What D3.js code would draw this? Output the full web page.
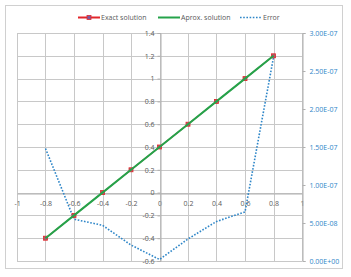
<!DOCTYPE html>
<html>
<head>
<meta charset="utf-8">
<script src="https://cdn.jsdelivr.net/npm/d3@7"></script>
<style>
  body { margin: 0; background: #fff; }
  text { font-family: "Open Sans", "DejaVu Sans", sans-serif; }
</style>
</head>
<body>
<div id="chart"></div>
<script>
// data
var xs = [-0.8, -0.6, -0.4, -0.2, 0, 0.2, 0.4, 0.6, 0.8];
var exact = [-0.4, -0.2, 0, 0.2, 0.4, 0.6, 0.8, 1.0, 1.2];
var aprox = [-0.4, -0.2, 0, 0.2, 0.4, 0.6, 0.8, 1.0, 1.2];
var error = [1.48e-7, 0.55e-7, 0.47e-7, 0.21e-7, 0.02e-7, 0.29e-7, 0.52e-7, 0.645e-7, 2.68e-7];
var xTicks = [-1, -0.8, -0.6, -0.4, -0.2, 0, 0.2, 0.4, 0.6, 0.8, 1];
var yTicks = [-0.6, -0.4, -0.2, 0, 0.2, 0.4, 0.6, 0.8, 1, 1.2, 1.4];
var y2Ticks = [0, 0.5e-7, 1e-7, 1.5e-7, 2e-7, 2.5e-7, 3e-7];
var y2Labels = ["0.00E+00", "5.00E-08", "1.00E-07", "1.50E-07", "2.00E-07", "2.50E-07", "3.00E-07"];

var W = 351, H = 277;
var pLeft = 17, pRight = 302, pTop = 33, pBottom = 261;
var red = "#e3262b", green = "#25a34a", blue = "#2e86c8";

var svg = d3.select('#chart').append('svg')
  .attr('width', W)
  .attr('height', H);

// chart border
svg.append('rect')
  .attr('x', 5.5).attr('y', 5.5)
  .attr('width', 337).attr('height', 263)
  .attr('fill', '#fff').attr('stroke', '#d0d0d0');

var x = d3.scaleLinear().domain([-1, 1]).range([pLeft, pRight]);
var y = d3.scaleLinear().domain([-0.6, 1.4]).range([pBottom, pTop]);
var y2 = d3.scaleLinear().domain([0, 3e-7]).range([pBottom, pTop]);

// gridlines
svg.append('g').selectAll('line').data(xTicks)
  .enter().append('line')
  .attr('x1', function (d) { return Math.round(x(d)) + 0.5; })
  .attr('x2', function (d) { return Math.round(x(d)) + 0.5; })
  .attr('y1', pTop).attr('y2', pBottom)
  .attr('stroke', '#c8c8c8');
svg.append('g').selectAll('line').data(yTicks)
  .enter().append('line')
  .attr('y1', function (d) { return Math.round(y(d)) + 0.5; })
  .attr('y2', function (d) { return Math.round(y(d)) + 0.5; })
  .attr('x1', pLeft).attr('x2', pRight)
  .attr('stroke', '#c8c8c8');

// axes through zero
var xAxis = d3.axisBottom(x).tickValues(xTicks).tickSize(0).tickPadding(8)
  .tickFormat(function (d) { return String(+d.toFixed(1)); });
var gx = svg.append('g').attr('transform', 'translate(0,' + (Math.round(y(0)) + 0.5) + ')').call(xAxis);
gx.select('.domain').attr('stroke', '#b0b0b0');

var yAxis = d3.axisLeft(y).tickValues(yTicks).tickSize(3).tickPadding(3)
  .tickFormat(function (d) { return String(+d.toFixed(1)); });
var gy = svg.append('g').attr('transform', 'translate(' + (Math.round(x(0)) + 0.5) + ',0)').call(yAxis);
gy.select('.domain').attr('stroke', '#b0b0b0');
gy.selectAll('.tick line').attr('stroke', '#b0b0b0');

var y2Axis = d3.axisRight(y2).tickValues(y2Ticks).tickSize(3).tickPadding(4)
  .tickFormat(function (d, i) { return y2Labels[i]; });
var gy2 = svg.append('g').attr('transform', 'translate(' + (pRight + 0.5) + ',0)').call(y2Axis);
gy2.select('.domain').attr('stroke', '#b0b0b0');
gy2.selectAll('.tick line').attr('stroke', '#b0b0b0');

svg.selectAll('.tick text').attr('font-size', 7).attr('fill', '#595959')
  .style('font-family', '"Open Sans", "DejaVu Sans", sans-serif');
gy2.selectAll('.tick text').attr('fill', blue);

// series
var pts = xs.map(function (d, i) { return { x: d, e: exact[i], a: aprox[i], r: error[i] }; });

svg.append('path').datum(pts)
  .attr('fill', 'none').attr('stroke', blue).attr('stroke-width', 1.6)
  .attr('stroke-dasharray', '1.6,1.6')
  .attr('d', d3.line().x(function (d) { return x(d.x); }).y(function (d) { return y2(d.r); }));

// exact line sits under the green one, only the markers show
svg.append('path').datum(pts)
  .attr('fill', 'none').attr('stroke', red).attr('stroke-width', 1.2)
  .attr('d', d3.line().x(function (d) { return x(d.x); }).y(function (d) { return y(d.e); }));

svg.append('g').selectAll('rect').data(pts)
  .enter().append('rect')
  .attr('x', function (d) { return x(d.x) - 2; })
  .attr('y', function (d) { return y(d.e) - 2; })
  .attr('width', 4).attr('height', 4)
  .attr('fill', '#b05a6a').attr('stroke', red).attr('stroke-width', 0.8);

svg.append('path').datum(pts)
  .attr('fill', 'none').attr('stroke', green).attr('stroke-width', 2)
  .attr('d', d3.line().x(function (d) { return x(d.x); }).y(function (d) { return y(d.a); }));

// legend
var legend = [
  { name: 'Exact solution', c: red, x: 78, dash: null, mark: true },
  { name: 'Aprox. solution', c: green, x: 158, dash: null, mark: false },
  { name: 'Error', c: blue, x: 240, dash: '1.6,1.6', mark: false }
];
var lg = svg.append('g').selectAll('g').data(legend).enter().append('g');
lg.append('line')
  .attr('x1', function (d) { return d.x; })
  .attr('x2', function (d) { return d.x + 22; })
  .attr('y1', 17.5).attr('y2', 17.5)
  .attr('stroke', function (d) { return d.c; }).attr('stroke-width', function (d) { return d.dash ? 1.6 : 2; })
  .attr('stroke-dasharray', function (d) { return d.dash; });
lg.filter(function (d) { return d.mark; }).append('rect')
  .attr('x', function (d) { return d.x + 9; }).attr('y', 15.5)
  .attr('width', 4).attr('height', 4)
  .attr('fill', '#7a5aa0').attr('stroke', red).attr('stroke-width', 0.8);
lg.append('text')
  .attr('x', function (d) { return d.x + 23; })
  .attr('y', 20)
  .attr('font-size', 7).attr('fill', '#595959')
  .text(function (d) { return d.name; });
</script>
</body>
</html>
